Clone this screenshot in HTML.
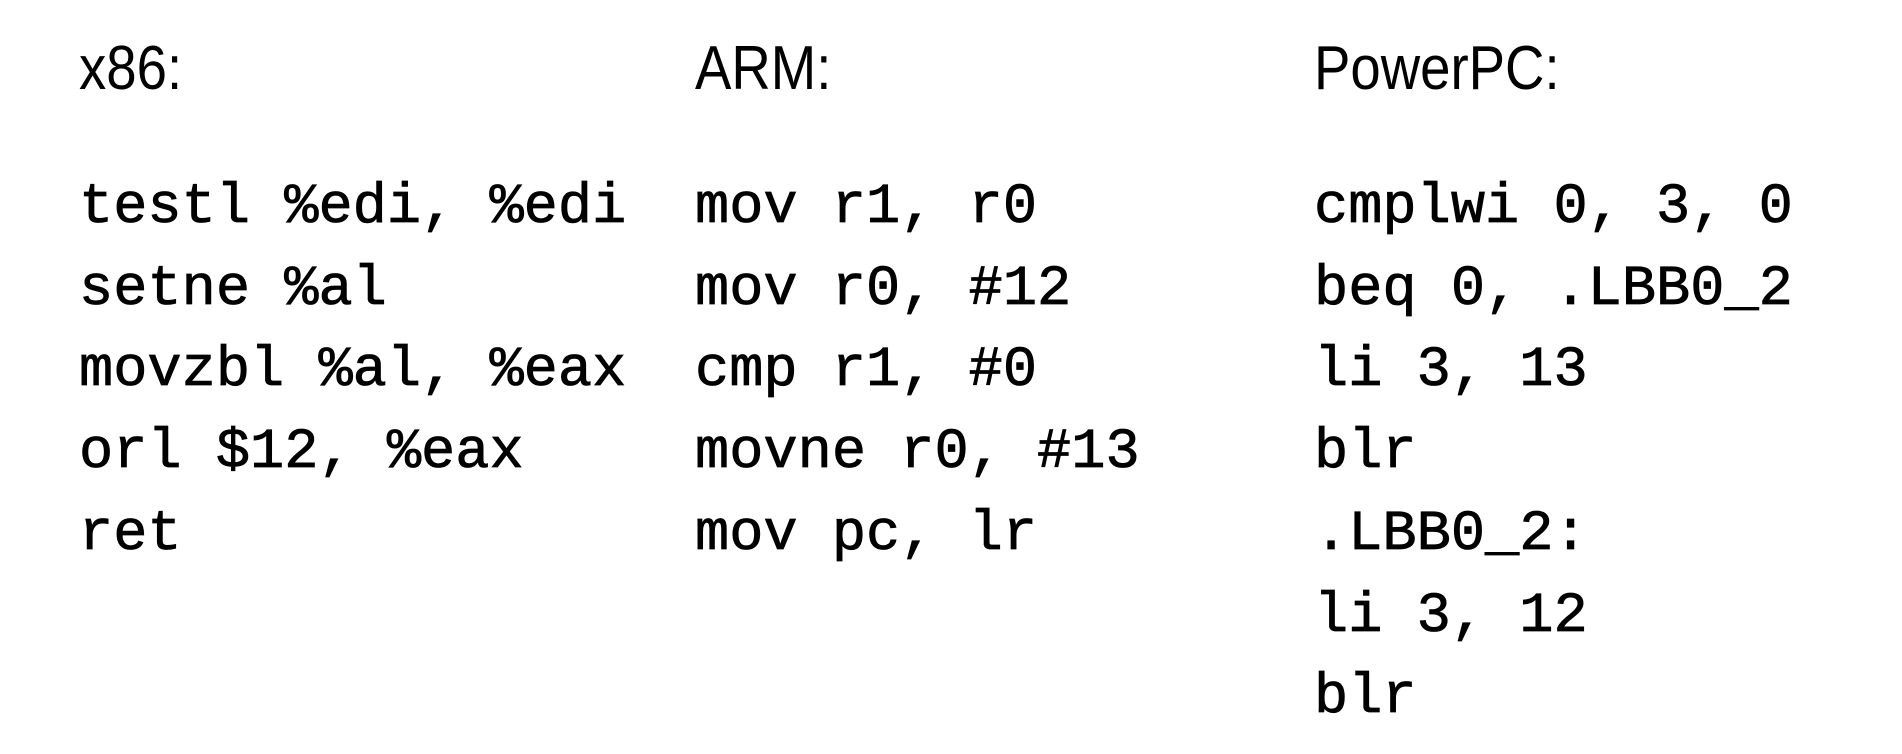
<!DOCTYPE html>
<html><head><style>
html,body{margin:0;padding:0;background:#fff;width:1902px;height:754px;overflow:hidden}
.h{position:absolute;font-family:"Liberation Sans",sans-serif;font-size:62px;line-height:1;color:#000;transform:scaleX(0.88);transform-origin:left}
.c{position:absolute;font-family:"Liberation Mono",monospace;font-size:57px;line-height:81.7px;color:#000;white-space:pre;-webkit-text-stroke:0.8px #000}
</style></head><body>
<div class="h" style="left:79px;top:38px">x86:</div>
<div class="h" style="left:695px;top:38px">ARM:</div>
<div class="h" style="left:1314px;top:38px">PowerPC:</div>
<div class="c" style="left:79px;top:168px">testl %edi, %edi
setne %al
movzbl %al, %eax
orl $12, %eax
ret</div>
<div class="c" style="left:695px;top:168px">mov r1, r0
mov r0, #12
cmp r1, #0
movne r0, #13
mov pc, lr</div>
<div class="c" style="left:1314px;top:168px">cmplwi 0, 3, 0
beq 0, .LBB0_2
li 3, 13
blr
.LBB0_2:
li 3, 12
blr</div>
</body></html>
